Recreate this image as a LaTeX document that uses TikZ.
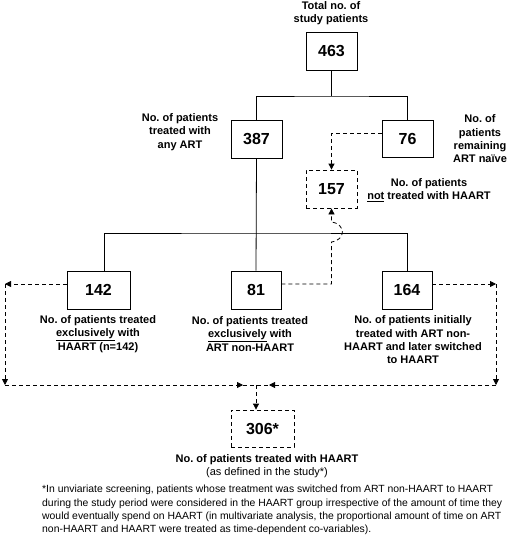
\documentclass[tikz,border=0pt]{standalone}
\usepackage{fontspec}
\setmainfont{Liberation Sans}
\usetikzlibrary{arrows.meta}

\tikzset{
  countbox/.style={draw, line width=0.8pt, inner sep=0pt, minimum width=51pt, minimum height=38pt, font=\fontsize{16}{18}\selectfont\bfseries},
  dashbox/.style={countbox, dash pattern=on 4pt off 3pt},
  caption/.style={align=center, inner sep=0pt, font=\fontsize{11}{13.3}\selectfont\bfseries},
  flow/.style={line width=0.8pt},
  dflow/.style={line width=0.8pt, dash pattern=on 4pt off 3pt},
  darrow/.style={dflow, -{Triangle[length=6pt,width=6pt]}},
}

\begin{document}
\frenchspacing
\begin{tikzpicture}[x=1pt, y=-1pt]
\useasboundingbox (0,0) rectangle (510,543);

% Zahlenkaesten
\node[countbox] (n463) at (331.5,51) {463};
\node[countbox] (n387) at (256.5,139) {387};
\node[countbox, minimum height=37pt] (n76) at (407.5,138.5) {76};
\node[dashbox] (n157) at (331.5,189) {157};
\node[countbox, minimum width=63pt] (n142) at (98.5,290) {142};
\node[countbox, minimum width=50pt] (n81) at (256,290) {81};
\node[countbox, minimum width=50pt] (n164) at (407,290) {164};
\node[dashbox, minimum width=63pt, minimum height=37pt] (n306) at (262.5,428.5) {306*};

% Beschriftungen
\node[caption] (capTotal) at (331,13) {Total no. of\\study patients};
\node[caption] (capART) at (180,132) {No. of patients\\treated with\\any ART};
\node[caption] (capNaive) at (480,139) {No. of\\patients\\remaining\\ART naïve};
\node[caption] (capNot) at (429,190) {No. of patients\\\underline{not} treated with HAART};
\node[caption] (capExcl) at (98,334) {No. of patients treated\\\underline{exclusively} with\\HAART (n=142)};
\node[caption] (capNon) at (250,334) {No. of patients treated\\\underline{exclusively} with\\ART non-HAART};
\node[caption] (capSwitch) at (413,340) {No. of patients initially\\treated with ART non-\\HAART and later switched\\to HAART};
\node[caption] (capHAART) at (267,466) {No. of patients treated with HAART\\{\mdseries (as defined in the study*)}};
\node[anchor=north west, align=left, inner sep=0pt, font=\fontsize{10.4}{13.4}\selectfont] (note) at (42,485)
  {*In unviariate screening, patients whose treatment was switched from ART non-HAART to HAART\\
   during the study period were considered in the HAART group irrespective of the amount of time they\\
   would eventually spend on HAART (in multivariate analysis, the proportional amount of time on ART\\
   non-HAART and HAART were treated as time-dependent co-variables).};

% Baum
\coordinate (splitA) at (331.5,96);
\coordinate (splitB) at (256.5,233);
\coordinate (j142) at (104,0);
\draw[flow] (n463.south) -- (splitA);
\draw[flow] (n387.north) |- (splitA) -| (n76.north);
\draw[flow] (n387.south) -- (n81.north);
\draw[flow] (n142.north -| j142) |- (splitB) -| (n164.north);

% gestrichelte Pfeile nach oben
\draw[darrow] ([yshift=5pt]n76.west) -| (n157.north);
\coordinate (hopB) at (n157.south |- 0,242);
\coordinate (hopT) at (n157.south |- 0,222);
\draw[darrow] ([yshift=6pt]n81.east) -| (hopB) .. controls (346,240) and (346,224) .. (hopT) -- (n157.south);

% gestrichelte Pfeile nach unten
\coordinate (cornerL) at (5,284);
\coordinate (cornerR) at (496,284);
\coordinate (botL) at (5,385);
\coordinate (botR) at (496,385);
\coordinate (mergeL) at (243,385);
\coordinate (mergeR) at (269,385);
\coordinate (merge) at (256,385);
\draw[darrow] ([yshift=6pt]n142.west) -- (cornerL);
\draw[darrow] ([yshift=6pt]n164.east) -- (cornerR);
\draw[darrow] (cornerL) -- (botL);
\draw[darrow] (cornerR) -- (botR);
\draw[darrow] (botL) -- (mergeL);
\draw[darrow] (botR) -- (mergeR);
\draw[dflow] (mergeL) -- (mergeR);
\draw[darrow] (merge) -- (merge |- n306.north);
\end{tikzpicture}
\end{document}
